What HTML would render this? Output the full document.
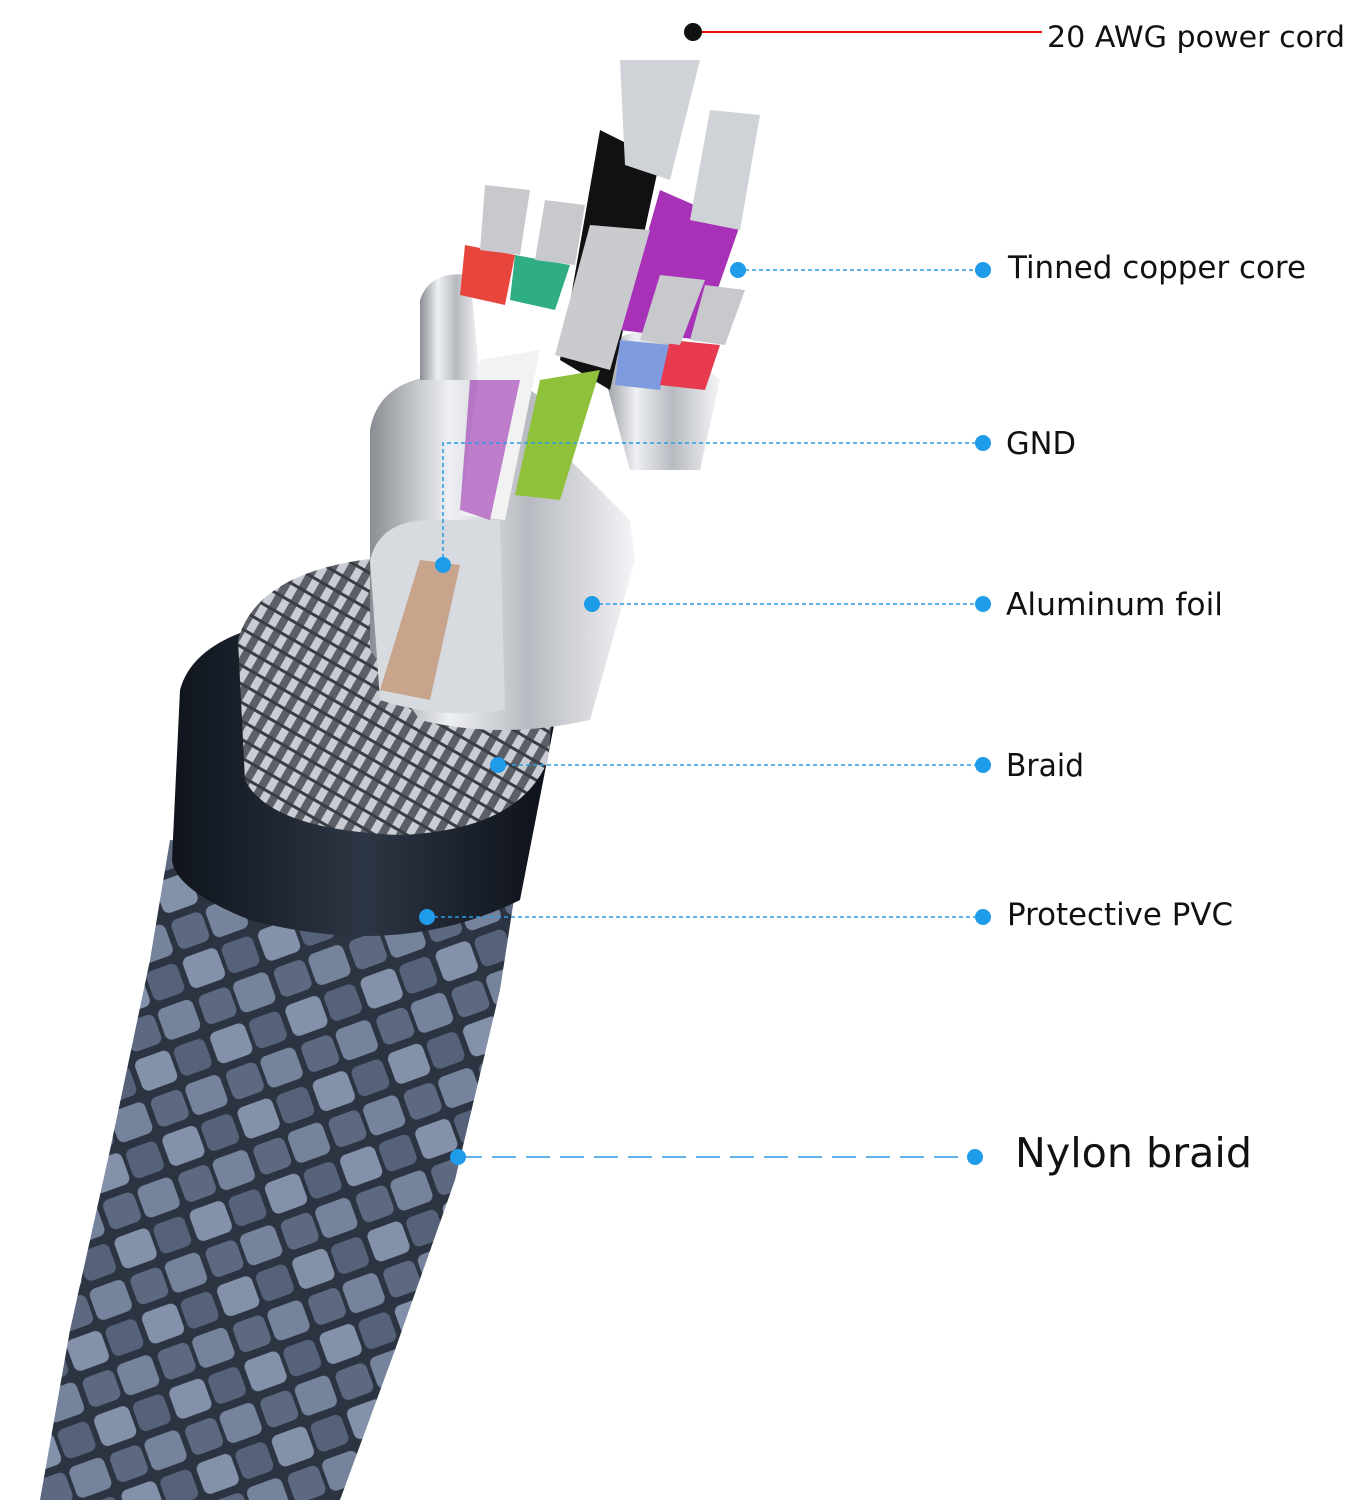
<!DOCTYPE html>
<html><head><meta charset="utf-8"><style>
html,body{margin:0;padding:0;background:#fff;}
svg{display:block}
text{font-family:"DejaVu Sans","Liberation Sans",sans-serif;fill:#111}
</style></head><body>
<svg width="1348" height="1500" viewBox="0 0 1348 1500" xmlns="http://www.w3.org/2000/svg">
<defs>
<pattern id="weave" width="80" height="80" patternUnits="userSpaceOnUse" patternTransform="rotate(-20)">
<rect width="80" height="80" fill="#2c3442"/>
<rect x="2" y="3" width="37" height="33" rx="7" fill="#8491aa"/>
<rect x="41" y="43" width="37" height="33" rx="7" fill="#76839c"/>
<rect x="43" y="4" width="33" height="31" rx="7" fill="#56627a"/>
<rect x="4" y="44" width="33" height="31" rx="7" fill="#5d6981"/>
</pattern>
<pattern id="mesh" width="16" height="16" patternUnits="userSpaceOnUse" patternTransform="rotate(30)">
<rect width="16" height="16" fill="#5c5f66"/>
<rect width="8" height="16" fill="#c9ccd2"/>
<rect y="6" width="16" height="3" fill="#3a3d44"/>
</pattern>
<linearGradient id="foil" x1="0" x2="1">
<stop offset="0" stop-color="#8a8d93"/><stop offset="0.3" stop-color="#eef0f3"/><stop offset="0.6" stop-color="#b7bac0"/><stop offset="1" stop-color="#f4f5f7"/>
</linearGradient>
<linearGradient id="pvc" x1="0" x2="1">
<stop offset="0" stop-color="#0f141c"/><stop offset="0.5" stop-color="#2d3644"/><stop offset="1" stop-color="#0c1018"/>
</linearGradient>
</defs>
<path d="M170 840 L520 860 L500 990 L455 1180 L395 1350 L340 1500 L40 1500 L70 1330 L110 1150 L150 960 Z" fill="url(#weave)"/>
<path d="M180 690 Q200 615 380 612 Q545 615 555 720 L520 900 Q400 960 250 920 Q175 890 172 860 Z" fill="url(#pvc)"/>
<path d="M238 640 Q260 560 420 555 Q555 560 560 640 L548 760 Q520 830 400 835 Q270 830 245 780 Z" fill="url(#mesh)"/>
<path d="M370 430 Q380 370 470 375 Q560 378 560 450 L630 520 L635 560 L590 720 Q500 740 420 720 L370 650 Z" fill="url(#foil)"/>
<path d="M370 560 Q380 520 430 520 L500 520 L505 710 Q440 720 380 700 Z" fill="#d7dade"/>
<path d="M420 300 Q430 270 470 275 L480 380 L420 380 Z" fill="url(#foil)"/>
<path d="M600 360 Q610 330 660 330 L720 380 L700 470 L630 470 Z" fill="url(#foil)"/>
<path d="M380 690 L420 560 L460 565 L430 700 Z" fill="#c8a48c"/>
<path d="M600 130 L660 160 L610 390 L560 360 Z" fill="#111"/>
<path d="M620 60 L700 60 L670 180 L625 165 Z" fill="#cfd2d6"/>
<path d="M660 190 L740 225 L700 340 L620 330 Z" fill="#a732b8"/>
<path d="M710 110 L760 115 L740 230 L690 220 Z" fill="#cfd2d6"/>
<path d="M465 245 L515 255 L505 305 L460 295 Z" fill="#e8463c"/>
<path d="M485 185 L530 190 L520 255 L480 250 Z" fill="#c7c9cd"/>
<path d="M515 255 L570 265 L555 310 L510 300 Z" fill="#2fae85"/>
<path d="M545 200 L585 205 L575 265 L535 260 Z" fill="#c7c9cd"/>
<path d="M590 225 L650 230 L610 370 L555 355 Z" fill="#c9cbcf"/>
<path d="M480 360 L540 350 L505 520 L460 515 Z" fill="#f2f2f2"/>
<path d="M540 380 L600 370 L560 500 L515 495 Z" fill="#8fc13a"/>
<path d="M470 380 L520 380 L490 520 L460 510 Z" fill="#9a2fb0" opacity="0.6"/>
<path d="M620 340 L670 345 L660 390 L615 385 Z" fill="#7f9be0"/>
<path d="M670 340 L720 345 L705 390 L660 385 Z" fill="#e83a4e"/>
<path d="M660 275 L705 280 L680 345 L640 340 Z" fill="#c7c9cd"/>
<path d="M705 285 L745 290 L725 345 L690 340 Z" fill="#c7c9cd"/>
<line x1="695" y1="32" x2="1042" y2="32" stroke="#e11" stroke-width="2"/>
<circle cx="693" cy="32" r="9" fill="#111"/>
<text x="1047" y="47" font-size="29" textLength="298" lengthAdjust="spacingAndGlyphs">20 AWG power cord</text>
<g stroke="#2a9be8" stroke-width="1.5" stroke-dasharray="4 3" fill="none">
<line x1="738" y1="270" x2="983" y2="270"/>
<polyline points="443,565 443,443 983,443"/>
<line x1="592" y1="604" x2="983" y2="604"/>
<line x1="498" y1="765" x2="983" y2="765"/>
<line x1="427" y1="917" x2="983" y2="917"/>
<line x1="458" y1="1157" x2="975" y2="1157" stroke-dasharray="24 10"/>
</g>
<g fill="#1e9be9">
<circle cx="738" cy="270" r="8"/><circle cx="983" cy="270" r="8"/>
<circle cx="443" cy="565" r="8"/><circle cx="983" cy="443" r="8"/>
<circle cx="592" cy="604" r="8"/><circle cx="983" cy="604" r="8"/>
<circle cx="498" cy="765" r="8"/><circle cx="983" cy="765" r="8"/>
<circle cx="427" cy="917" r="8"/><circle cx="983" cy="917" r="8"/>
<circle cx="458" cy="1157" r="8"/><circle cx="975" cy="1157" r="8"/>
</g>
<g font-size="31">
<text x="1008" y="278" textLength="298" lengthAdjust="spacingAndGlyphs">Tinned copper core</text>
<text x="1006" y="454" textLength="70" lengthAdjust="spacingAndGlyphs">GND</text>
<text x="1006" y="615" textLength="217" lengthAdjust="spacingAndGlyphs">Aluminum foil</text>
<text x="1006" y="776" textLength="78" lengthAdjust="spacingAndGlyphs">Braid</text>
<text x="1007" y="925" textLength="226" lengthAdjust="spacingAndGlyphs">Protective PVC</text>
</g>
<text x="1015" y="1167" font-size="41" textLength="237" lengthAdjust="spacingAndGlyphs">Nylon braid</text>
</svg>
</body></html>
